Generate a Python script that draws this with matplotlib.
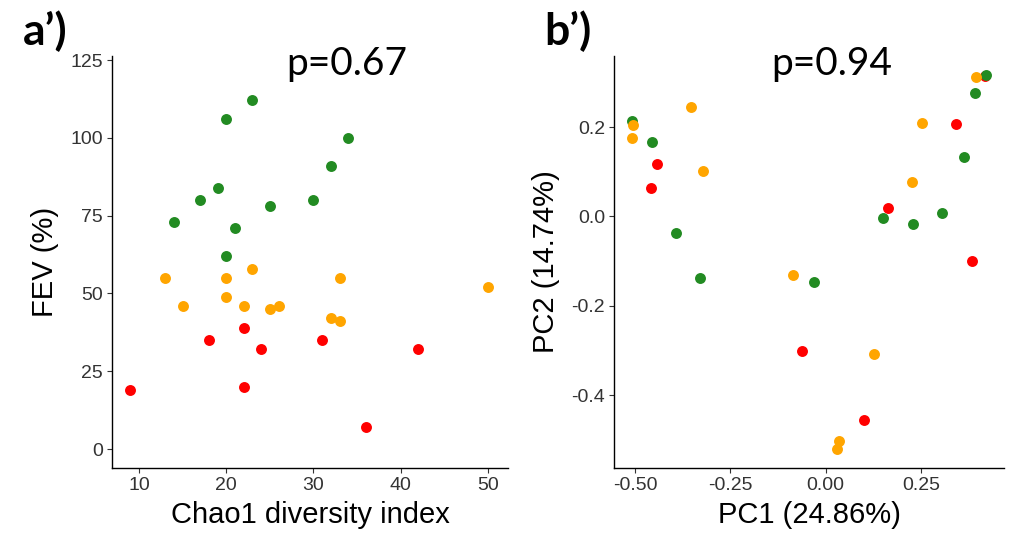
import matplotlib
matplotlib.use("Agg")
import matplotlib.pyplot as plt
from matplotlib import font_manager

# ---- data: panel a' (Chao1 vs FEV) ----
a_green_x = [23, 20, 34, 32, 19, 17, 30, 25, 14, 21, 20]
a_green_y = [112, 106, 100, 91, 84, 80, 80, 78, 73, 71, 62]
a_orange_x = [13, 20, 23, 33, 20, 15, 22, 25, 26, 32, 33, 50]
a_orange_y = [55, 55, 58, 55, 49, 46, 46, 45, 46, 42, 41, 52]
a_red_x = [22, 18, 31, 24, 42, 9, 22, 36]
a_red_y = [39, 35, 35, 32, 32, 19, 20, 7]

# ---- data: panel b' (PCA) ----
b_green_x = [-0.509, -0.455, -0.393, -0.330, -0.030, 0.150, 0.228, 0.305, 0.364, 0.392, 0.422]
b_green_y = [0.213, 0.167, -0.037, -0.137, -0.147, -0.003, -0.017, 0.008, 0.132, 0.277, 0.317]
b_orange_x = [-0.505, -0.509, -0.353, -0.321, -0.086, 0.127, 0.034, 0.031, 0.226, 0.254, 0.395]
b_orange_y = [0.204, 0.175, 0.244, 0.102, -0.130, -0.309, -0.502, -0.521, 0.077, 0.210, 0.313]
b_red_x = [-0.443, -0.459, 0.163, 0.343, 0.384, -0.063, 0.101, 0.418]
b_red_y = [0.117, 0.063, 0.018, 0.207, -0.099, -0.301, -0.456, 0.315]

a_xticks = [10, 20, 30, 40, 50]
a_yticks = [0, 25, 50, 75, 100, 125]
b_xticks = [-0.50, -0.25, 0.00, 0.25]
b_xticklabels = ["-0.50", "-0.25", "0.00", "0.25"]
b_yticks = [-0.4, -0.2, 0.0, 0.2]
b_yticklabels = ["-0.4", "-0.2", "0.0", "0.2"]

GREEN = "#228B22"
ORANGE = "#FFA500"
RED = "#FF0000"
TICKC = "#333333"

names = {f.name for f in font_manager.fontManager.ttflist}
narrow = 'Liberation Sans Narrow' in names
main_family = ['Liberation Sans Narrow', 'Liberation Sans', 'DejaVu Sans'] if narrow else ['Liberation Sans', 'DejaVu Sans']
plt.rcParams['font.family'] = main_family
tick_size = 16 if narrow else 14
lab_size = 24 if narrow else 21

fig = plt.figure(figsize=(10.11, 5.43), dpi=100)
axA = fig.add_axes([112/1011, 1-468/543, (508-112)/1011, (468-56)/543])
axB = fig.add_axes([614/1011, 1-468/543, (1004-614)/1011, (468-56)/543])

S = 62
for ax, (rx, ry, gx, gy, ox, oy) in [
    (axA, (a_red_x, a_red_y, a_green_x, a_green_y, a_orange_x, a_orange_y)),
    (axB, (b_red_x, b_red_y, b_green_x, b_green_y, b_orange_x, b_orange_y)),
]:
    ax.scatter(rx, ry, s=S, color=RED, linewidths=0, zorder=3)
    ax.scatter(gx, gy, s=S, color=GREEN, linewidths=0, zorder=3)
    ax.scatter(ox, oy, s=S, color=ORANGE, linewidths=0, zorder=3)
    for sp in ['top', 'right']:
        ax.spines[sp].set_visible(False)
    for sp in ['left', 'bottom']:
        ax.spines[sp].set_linewidth(1.0)
        ax.spines[sp].set_color('black')
    ax.tick_params(axis='both', direction='out', length=3.5, width=0.8,
                   color=TICKC, labelcolor=TICKC, labelsize=tick_size, pad=3)

axA.set_xlim(6.9, 52.3)
axA.set_ylim(-6.1, 126.3)
axA.set_xticks(a_xticks)
axA.set_yticks(a_yticks)
axA.set_xlabel("Chao1 diversity index", fontsize=lab_size, labelpad=5)
axA.set_ylabel("FEV (%)", fontsize=lab_size, labelpad=8)

axB.set_xlim(-0.555, 0.468)
axB.set_ylim(-0.563, 0.359)
axB.set_xticks(b_xticks)
axB.set_xticklabels(b_xticklabels)
axB.set_yticks(b_yticks)
axB.set_yticklabels(b_yticklabels)
axB.set_xlabel("PC1 (24.86%)", fontsize=lab_size, labelpad=5)
axB.set_ylabel("PC2 (14.74%)", fontsize=lab_size, labelpad=8)

fig.text(45/1011, 1-31/543, "a\u2019)", fontsize=32, fontweight='bold',
         family=['Lato', 'DejaVu Sans'], ha='center', va='center')
fig.text(568/1011, 1-31/543, "b\u2019)", fontsize=32, fontweight='bold',
         family=['Lato', 'DejaVu Sans'], ha='center', va='center')
fig.text(347/1011, 1-64/543, "p=0.67", fontsize=28,
         family=['Lato', 'DejaVu Sans'], ha='center', va='center')
fig.text(832/1011, 1-64/543, "p=0.94", fontsize=28,
         family=['Lato', 'DejaVu Sans'], ha='center', va='center')

fig.savefig("out.png", dpi=100)
